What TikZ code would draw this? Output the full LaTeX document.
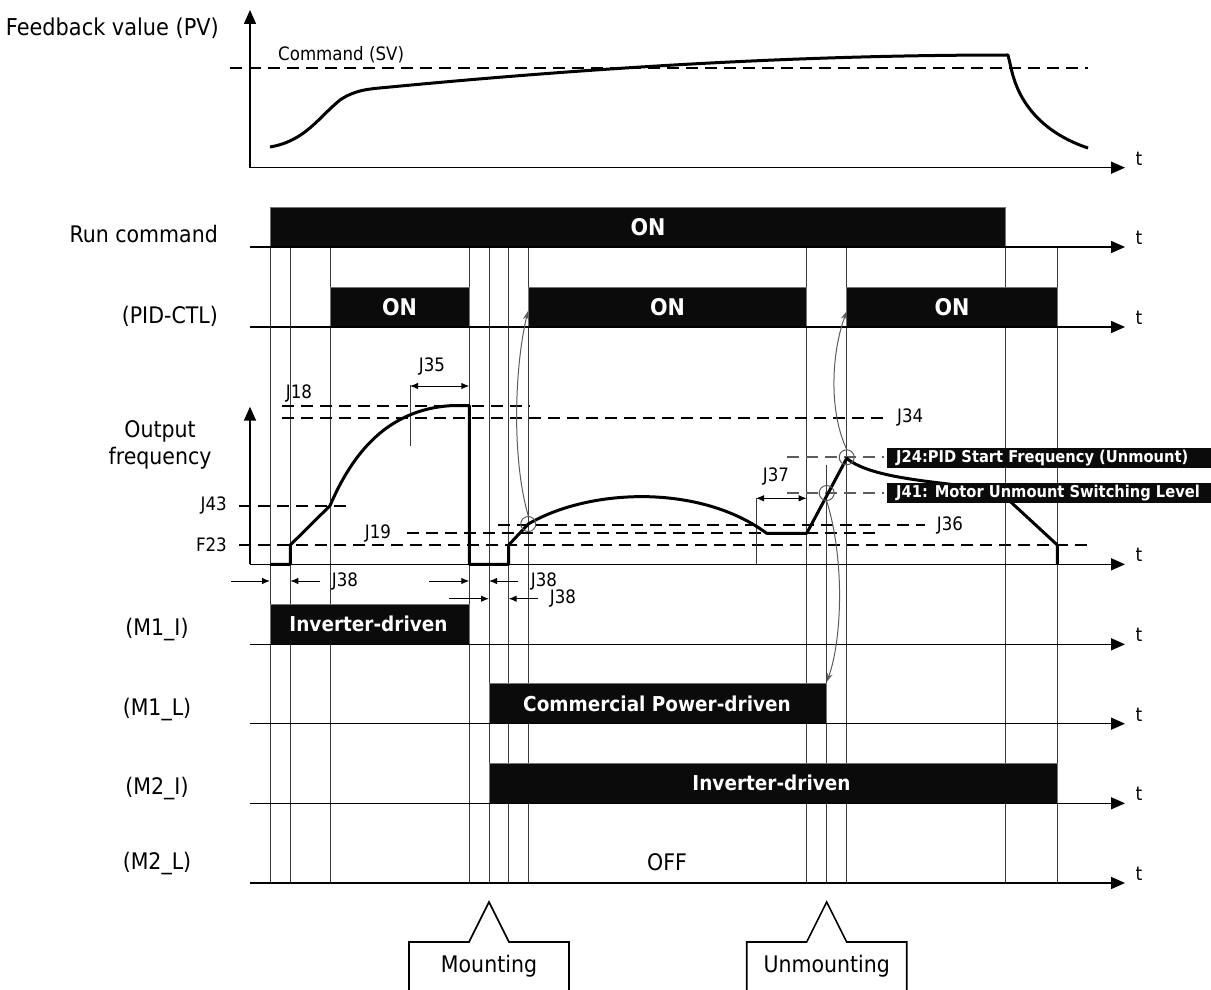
\documentclass[tikz,border=0pt]{standalone}
\usepackage{fontspec}
\setmainfont{DejaVu Sans}[FakeStretch=0.9]
\usetikzlibrary{arrows.meta}
\definecolor{barblack}{HTML}{0B0B0B}
\definecolor{gridc}{HTML}{3A3A3A}
\definecolor{annc}{HTML}{5C5C5C}
\tikzset{
  gridln/.style={draw=gridc, line width=1pt},
  axisln/.style={draw=black, line width=1.5pt, -{Triangle[length=14pt,width=12pt]}},
  sigln/.style={draw=black, line width=3pt, line join=round},
  dashln/.style={draw=black, line width=2pt, dash pattern=on 12pt off 7pt},
  gdashln/.style={draw=annc, line width=2pt, dash pattern=on 12pt off 7pt},
  barbox/.style={fill=barblack, draw=black!55, line width=0.8pt},
  lbl/.style={font=\fontsize{22.8}{26}\selectfont, inner sep=0pt},
  jlbl/.style={font=\fontsize{18.5}{22}\selectfont, inner sep=0pt},
  tlbl/.style={font=\fontsize{19}{22}\selectfont, inner sep=0pt},
  ontxt/.style={text=white, font=\bfseries\fontsize{23}{26}\selectfont, inner sep=0pt},
  drvtxt/.style={text=white, font=\bfseries\fontsize{20.5}{24}\selectfont, inner sep=0pt},
  tagtxt/.style={text=white, font=\bfseries\fontsize{16.3}{20}\selectfont, inner sep=0pt, anchor=west},
  dimarrow/.style={draw=black, line width=1pt, -{Latex[length=8pt,width=6.5pt]}},
  dimboth/.style={draw=black, line width=1pt, {Latex[length=8pt,width=6.5pt]}-{Latex[length=8pt,width=6.5pt]}},
  gcurve/.style={draw=annc, line width=1pt, -{Stealth[length=9pt,width=6pt]}},
  gcirc/.style={draw=annc, line width=1pt, circle, minimum size=15pt, inner sep=0pt},
  callout/.style={draw=black, line width=1.6pt, line join=miter}
}
\begin{document}
\begin{tikzpicture}[x=1pt,y=-1pt]
\useasboundingbox (0,0) rectangle (1211,990);

% ---------------- Feedback chart ----------------
\node[lbl, anchor=east, font=\fontsize{23.2}{26}\selectfont] (fblabel) at (219,28) {Feedback value (PV)};
\draw[dashln] (230,67.7) -- (1088,67.7);
\node[font=\fontsize{18.5}{20}\selectfont, inner sep=0pt, anchor=west] (svlabel) at (278,55) {Command (SV)};
\draw[sigln] (270,147) .. controls (305,141) and (318,118) .. (340,100)
  .. controls (355,90) and (368,89) .. (385,87.5)
  .. controls (650,62) and (850,55) .. (1008,55)
  -- (1012,72) .. controls (1022,112) and (1052,136) .. (1088,148);
\draw[axisln] (250,167.7) -- (250,10);
\draw[axisln] (250,167.7) -- (1125,167.7);
\node[tlbl] (tfb) at (1139,159) {t};

% ---------------- vertical grid lines ----------------
\foreach \gx in {270,290.3,330,469.3,489,508.7,528.3,806.7,846.7,1005.7,1057.3}
  \draw[gridln] (\gx,247) -- (\gx,883);
\draw[gridln] (826.7,465) -- (826.7,883);

% ---------------- bars ----------------
\draw[barbox] (270,207) rectangle (1005.7,247);
\draw[barbox] (330,287) rectangle (469.3,327);
\draw[barbox] (528.3,287) rectangle (806.7,327);
\draw[barbox] (846.7,287) rectangle (1057.3,327);
\draw[barbox] (270,604.3) rectangle (469.3,644.3);
\draw[barbox] (489,683.7) rectangle (826.7,723.7);
\draw[barbox] (489,763.3) rectangle (1057.3,803.3);

\node[ontxt] (runon) at (648,227) {ON};
\node[ontxt] (pidon1) at (399.6,307) {ON};
\node[ontxt] (pidon2) at (667.5,307) {ON};
\node[ontxt] (pidon3) at (952,307) {ON};
\node[drvtxt] (m1idrv) at (368.5,624.3) {Inverter-driven};
\node[drvtxt] (m1ldrv) at (657,703.7) {Commercial Power-driven};
\node[drvtxt] (m2idrv) at (771.5,783.3) {Inverter-driven};
\node[lbl] (offtxt) at (667,862) {OFF};

% ---------------- row labels and time axes ----------------
\node[lbl, anchor=east] (runlbl) at (218,234) {Run command};
\node[lbl, anchor=east] (pidlbl) at (218,316) {(PID-CTL)};
\node[lbl, align=center] (oflbl) at (160,445) {Output\\[1pt]frequency};
\node[lbl] (m1ilbl) at (157,630) {(M1\_I)};
\node[lbl] (m1llbl) at (157,710) {(M1\_L)};
\node[lbl] (m2ilbl) at (157,789) {(M2\_I)};
\node[lbl] (m2llbl) at (157,864) {(M2\_L)};

\foreach \ay/\nm in {247/trun,327/tpid,564.3/tof,644.3/tm1i,723.7/tm1l,803.3/tm2i,883/tm2l}{
  \draw[axisln] (250,\ay) -- (1125,\ay);
  \node[tlbl] (\nm) at (1139,\ay-9) {t};
}
\draw[axisln] (250,564.3) -- (250,406.7);

% ---------------- output frequency levels ----------------
\draw[dashln] (282,405.7) -- (530,405.7);
\draw[dashln] (282,418.3) -- (885,418.3);
\draw[dashln] (239,505.7) -- (350,505.7);
\draw[dashln] (239,545) -- (1088,545);
\draw[dashln] (407,533.3) -- (880,533.3);
\draw[dashln] (498,525) -- (925,525);
\draw[gdashln] (787,457.3) -- (884,457.3);
\draw[gdashln] (787,492.7) -- (884,492.7);

\node[jlbl] (j18) at (299,393) {J18};
\node[jlbl] (j35) at (432,366) {J35};
\node[jlbl, anchor=east] (j43) at (227,505.7) {J43};
\node[jlbl, anchor=east] (f23) at (227,545) {F23};
\node[jlbl] (j19) at (378,533.3) {J19};
\node[jlbl, anchor=west] (j34) at (897,417.5) {J34};
\node[jlbl] (j36) at (950,525) {J36};
\node[jlbl] (j37) at (776,476.5) {J37};

% J35 / J37 dimensions
\draw[gridln] (410,385) -- (410,446);
\draw[dimboth] (410,386) -- (469.3,386);
\draw[gridln] (756,498.3) -- (756,564.3);
\draw[dimboth] (756,498.3) -- (806.7,498.3);

% output frequency signal
\draw[sigln] (270,564.3) -- (290.3,564.3) -- (290.3,545) -- (330,505.7)
  .. controls (353,452) and (388,410) .. (450,405.7) -- (469.3,405.7)
  -- (469.3,564.3) -- (508.7,564.3) -- (508.7,545) -- (528.3,524)
  .. controls (590,488) and (700,484) .. (766.7,533.3) -- (806.7,533.3)
  -- (846.7,458.3) .. controls (875,482) and (960,482) .. (1000,492)
  -- (1057.3,545) -- (1057.3,564.3);

% circles and gray curved arrows
\node[gcirc] (c1) at (528.3,524) {};
\node[gcirc] (c2) at (826.7,493) {};
\node[gcirc] (c3) at (846.7,457.3) {};
\draw[gcurve] (c1.north) .. controls (512,460) and (514,370) .. (528,311);
\draw[gcurve] (c3.north) .. controls (828,410) and (832,350) .. (847,311);
\draw[gcurve] (c2.south) .. controls (845,560) and (842,640) .. (826.7,682);

% parameter tags
\fill[barblack] (886.7,447.7) rectangle (1212,467.7);
\node[tagtxt] (j24tag) at (896,457.7) {J24:PID Start Frequency (Unmount)};
\fill[barblack] (886.7,483.3) rectangle (1212,503.3);
\node[tagtxt] (j41tag) at (896,493.3) {J41: Motor Unmount Switching Level};

% J38 timers
\draw[dimarrow] (231,581) -- (270,581);
\draw[dimarrow] (320,581) -- (290.3,581);
\node[jlbl] (j38a) at (345,581) {J38};
\draw[dimarrow] (429,581) -- (469.3,581);
\draw[dimarrow] (518,581) -- (489,581);
\node[jlbl] (j38b) at (544,581) {J38};
\draw[dimarrow] (449,598.7) -- (489,598.7);
\draw[dimarrow] (538,598.7) -- (508.7,598.7);
\node[jlbl] (j38c) at (563,598.7) {J38};

% ---------------- callouts ----------------
\draw[callout] (409,996) -- (409,942) -- (469,942) -- (489,902) -- (509,942) -- (569,942) -- (569,996);
\node[lbl] (mount) at (489,966) {Mounting};
\draw[callout] (746.7,996) -- (746.7,942) -- (806.7,942) -- (826.7,902) -- (846.7,942) -- (906.7,942) -- (906.7,996);
\node[lbl] (unmount) at (826.7,966) {Unmounting};
\end{tikzpicture}
\end{document}
